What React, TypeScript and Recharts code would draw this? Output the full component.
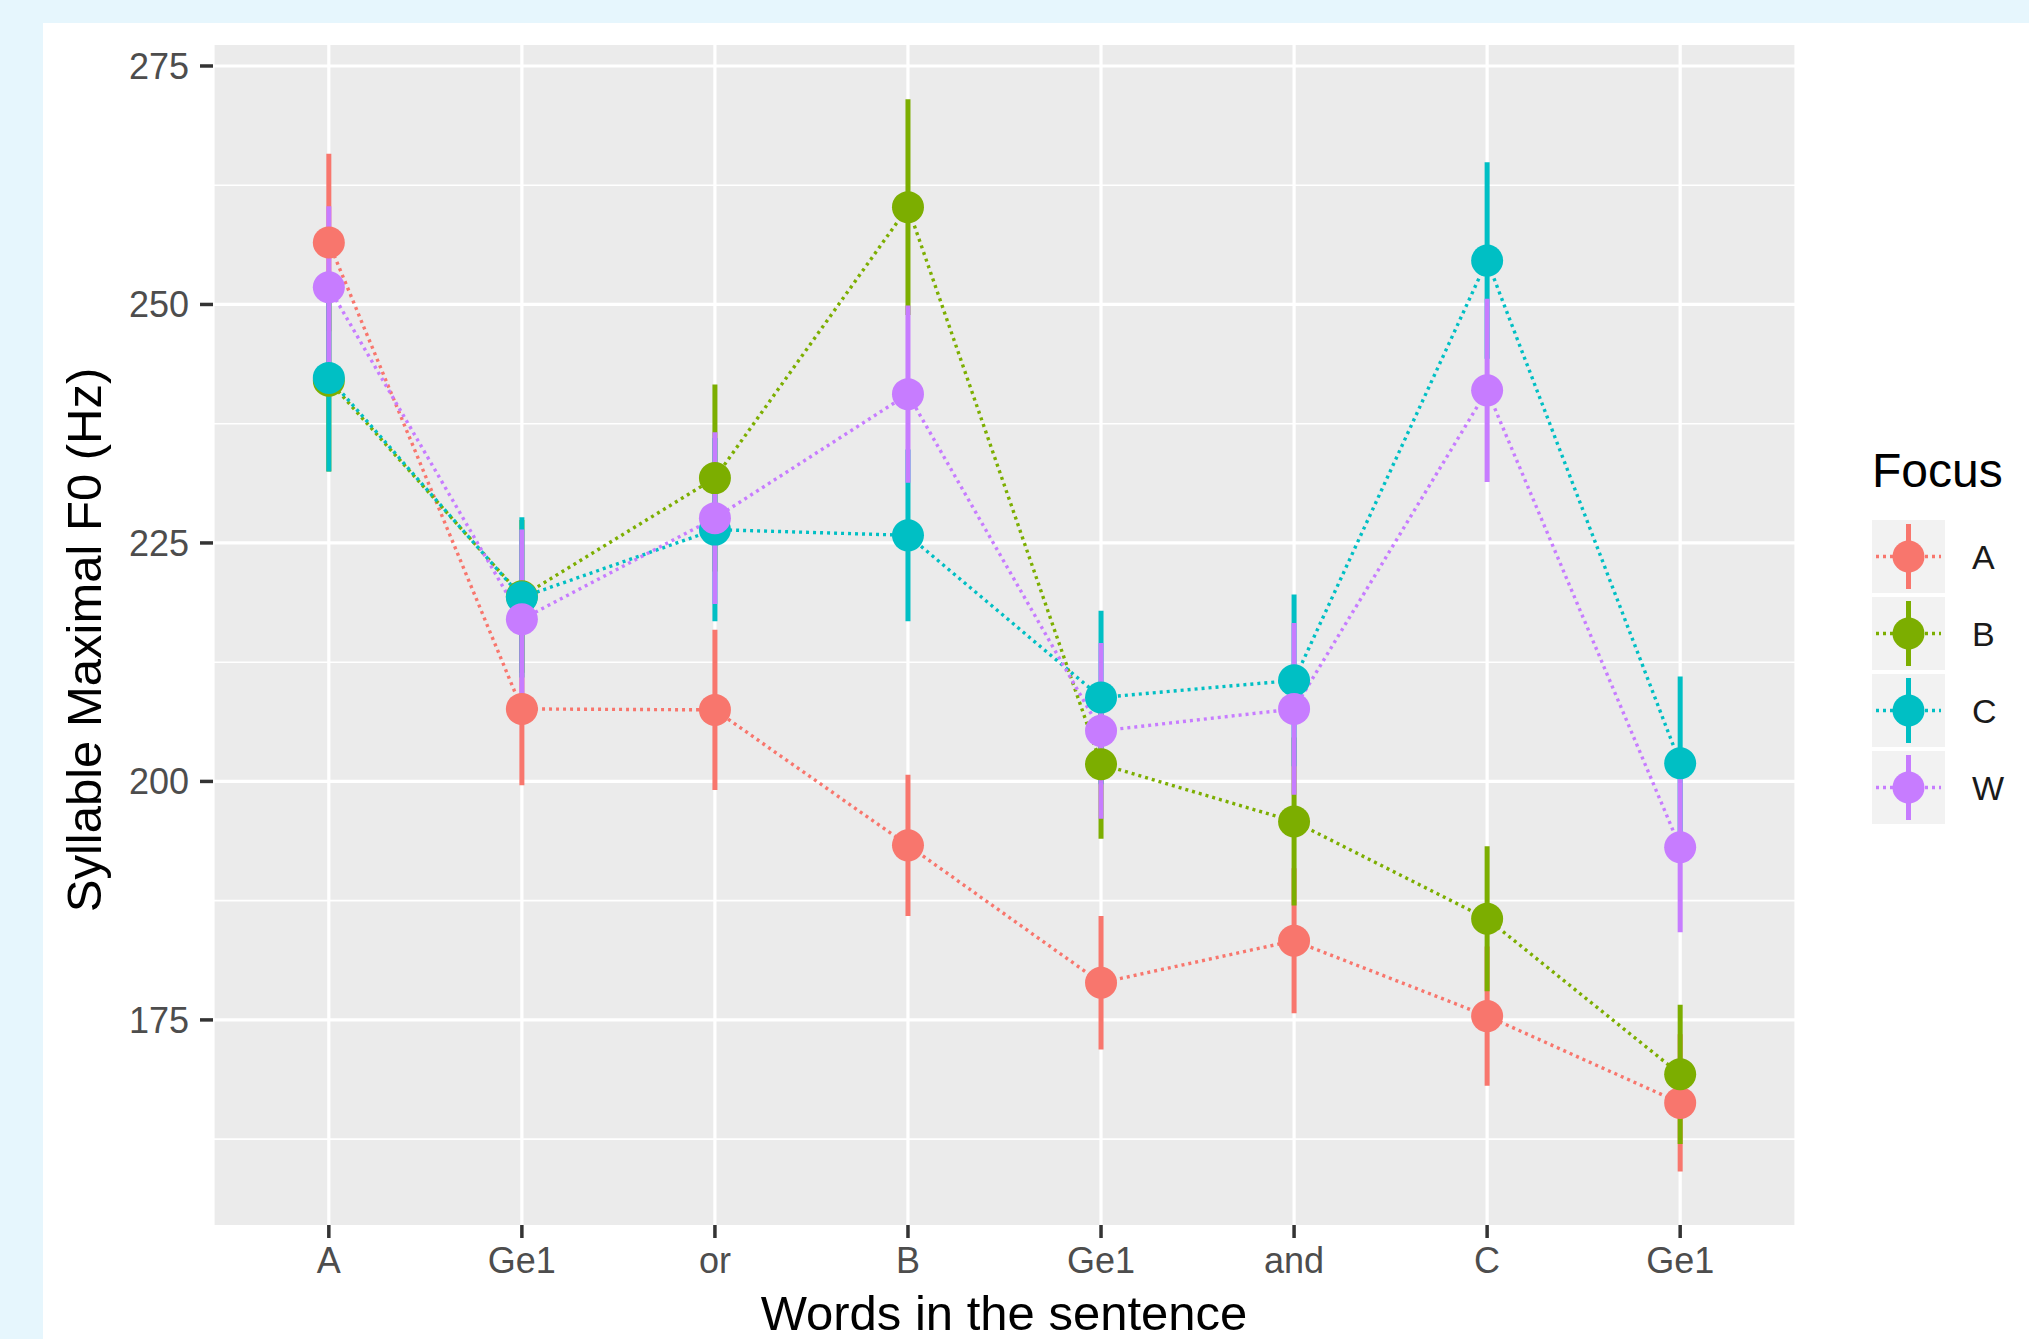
import { LineChart, Line, XAxis, YAxis, CartesianGrid, ErrorBar } from 'recharts';

const FONT = '"Liberation Sans", Arial, Helvetica, sans-serif';

// categories on the x axis (sentence words)
const words = ['A', 'Ge1', 'or', 'B', 'Ge1', 'and', 'C', 'Ge1'];

// mean max F0 per focus condition, with CI half-widths
const meanA = [256.5, 207.6, 207.5, 193.3, 178.9, 183.3, 175.4, 166.3];
const errA = [9.3, 8.0, 8.4, 7.4, 7.0, 7.6, 7.3, 7.2];
const meanB = [242.0, 219.4, 231.8, 260.2, 201.8, 195.8, 185.6, 169.3];
const errB = [9.5, 8.0, 9.8, 11.3, 7.8, 8.8, 7.6, 7.3];
const meanC = [242.3, 219.3, 226.4, 225.8, 208.8, 210.6, 254.6, 201.9];
const errC = [9.8, 8.4, 9.6, 9.0, 9.1, 9.0, 10.3, 9.1];
const meanW = [251.8, 217.0, 227.6, 240.6, 205.3, 207.6, 241.0, 193.1];
const errW = [8.5, 9.4, 9.0, 9.3, 9.2, 9.0, 9.6, 8.9];

const yTicks = [175, 200, 225, 250, 275];
const yMinor = [162.5, 187.5, 212.5, 237.5, 262.5];
const xTicks = words.map((_, i) => i + 1);

const series = [
  { key: 'A', color: '#F8766D', mean: meanA, err: errA },
  { key: 'B', color: '#7CAE00', mean: meanB, err: errB },
  { key: 'C', color: '#00BFC4', mean: meanC, err: errC },
  { key: 'W', color: '#C77CFF', mean: meanW, err: errW },
];

const rows = words.map((w, i) => {
  const row: Record<string, number | string> = { x: i + 1, word: w };
  series.forEach((s) => {
    row[s.key] = s.mean[i];
    row[s.key + '_err'] = s.err[i];
  });
  return row;
});

function FocusLegend() {
  return (
    <svg
      width={169}
      height={420}
      style={{ position: 'absolute', left: 1860, top: 430 }}
    >
      <text x={12} y={57} fontSize={48} fontFamily={FONT} fill="#000">
        Focus
      </text>
      {series.map((s, i) => {
        const top = 90 + i * 77;
        const cx = 48.5;
        const cy = top + 36.5;
        return (
          <g key={s.key}>
            <rect x={12} y={top} width={73} height={73} fill="#f2f2f2" />
            <line x1={16} x2={81} y1={cy} y2={cy} stroke={s.color} strokeWidth={3.4} strokeDasharray="3 4" />
            <line x1={cx} x2={cx} y1={top + 4} y2={top + 69} stroke={s.color} strokeWidth={5} />
            <circle cx={cx} cy={cy} r={16} fill={s.color} />
            <text x={112} y={cy + 12} fontSize={34} fontFamily={FONT} fill="#1a1a1a">
              {s.key}
            </text>
          </g>
        );
      })}
    </svg>
  );
}

export default function App() {
  return (
    <div style={{ position: 'absolute', left: 0, top: 0, width: 2029, height: 1339, background: '#e6f6fd', overflow: 'hidden' }}>
      <div style={{ position: 'absolute', left: 43, top: 23, right: 0, bottom: 0, background: '#ffffff' }} />
      <div style={{ position: 'absolute', left: 0, top: 0 }}>
        <LineChart width={2029} height={1339} data={rows} margin={{ top: 45, right: 233, bottom: 0, left: 0 }}>
          <CartesianGrid fill="#ebebeb" stroke="#ffffff" strokeWidth={1.6} vertical={false} horizontalValues={yMinor} />
          <CartesianGrid stroke="#ffffff" strokeWidth={3.2} horizontalValues={yTicks} />
          <XAxis
            type="number"
            dataKey="x"
            domain={[0.4, 8.6]}
            ticks={xTicks}
            interval={0}
            allowDataOverflow
            tickFormatter={(v: number) => words[v - 1]}
            axisLine={false}
            tickLine={{ stroke: '#333333', strokeWidth: 3.5 }}
            tickSize={13}
            tickMargin={9}
            tick={{ fill: '#4d4d4d', fontSize: 36, fontFamily: FONT }}
            height={114}
            label={{
              content: () => (
                <text x={1004} y={1330} textAnchor="middle" fontSize={49} fontFamily={FONT} fill="#000">
                  Words in the sentence
                </text>
              ),
            }}
          />
          <YAxis
            type="number"
            domain={[153.5, 277.2]}
            ticks={yTicks}
            allowDataOverflow
            axisLine={false}
            tickLine={{ stroke: '#333333', strokeWidth: 3.5 }}
            tickSize={13}
            tickMargin={11}
            tick={{ fill: '#4d4d4d', fontSize: 36, fontFamily: FONT }}
            width={213}
            label={{
              content: () => (
                <text
                  x={101}
                  y={640}
                  transform="rotate(-90 101 640)"
                  textAnchor="middle"
                  fontSize={49}
                  fontFamily={FONT}
                  fill="#000"
                >
                  Syllable Maximal F0 (Hz)
                </text>
              ),
            }}
          />
          {series.map((s) => (
            <Line
              key={'line-' + s.key}
              dataKey={s.key}
              stroke={s.color}
              strokeWidth={3.4}
              strokeDasharray="3 4"
              dot={false}
              activeDot={false}
              legendType="none"
              isAnimationActive={false}
            />
          ))}
          {series.map((s) => (
            <Line
              key={'err-' + s.key}
              dataKey={s.key}
              stroke="none"
              dot={false}
              activeDot={false}
              legendType="none"
              isAnimationActive={false}
            >
              <ErrorBar dataKey={s.key + '_err'} width={0} stroke={s.color} strokeWidth={5} direction="y" isAnimationActive={false} />
            </Line>
          ))}
          {series.map((s) => (
            <Line
              key={'pt-' + s.key}
              dataKey={s.key}
              stroke="none"
              dot={{ r: 16, fill: s.color, stroke: 'none', strokeWidth: 0 }}
              activeDot={false}
              legendType="none"
              isAnimationActive={false}
            />
          ))}
        </LineChart>
      </div>
      <FocusLegend />
    </div>
  );
}
